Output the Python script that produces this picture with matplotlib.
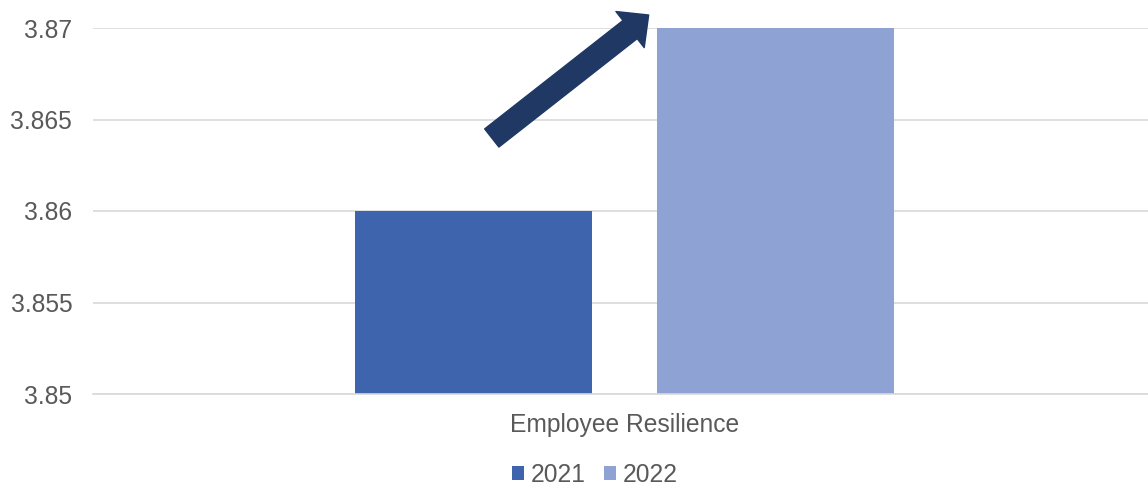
import matplotlib
matplotlib.use("Agg")
import matplotlib.pyplot as plt
from matplotlib.patches import FancyArrowPatch

plt.rcParams['font.family'] = ['Liberation Sans', 'DejaVu Sans']

category = "Employee Resilience"
years = ["2021", "2022"]
scores = [3.86, 3.87]
colors = ["#3D64AC", "#8FA2D4"]
yticks = [3.85, 3.855, 3.86, 3.865, 3.87]

TEXT = "#595959"
GRID = "#D9D9D9"
FS = 17.7

fig = plt.figure(figsize=(11.48, 4.88), dpi=100)
ax = fig.add_axes([93 / 1148, 1 - 394 / 488, 1 - 93 / 1148, (394 - 28) / 488])

# two bars sitting side by side around the single category
offsets = [-0.5, 0.5]
for off, val, col, yr in zip(offsets, scores, colors, years):
    ax.bar(off, val - yticks[0], bottom=yticks[0], width=0.786,
           color=col, label=yr, zorder=2)

ax.set_xlim(-1.763, 1.737)
ax.set_ylim(yticks[0], yticks[-1])
ax.set_yticks(yticks)
ax.set_yticklabels([f"{t:g}" for t in yticks])
ax.set_xticks([0])
ax.set_xticklabels([category])
ax.tick_params(axis='both', length=0, labelsize=FS, colors=TEXT)
ax.tick_params(axis='y', pad=15)
ax.tick_params(axis='x', pad=14)

ax.yaxis.grid(True, color=GRID, linewidth=1.2, zorder=0)
ax.set_axisbelow(True)
for s in ["top", "right", "left"]:
    ax.spines[s].set_visible(False)
ax.spines["bottom"].set_color(GRID)
ax.spines["bottom"].set_linewidth(1.2)

# upward arrow pointing at the 2022 bar
arrow = FancyArrowPatch((-0.44, 3.86399), (0.0804, 3.87071),
                        arrowstyle="simple,head_length=17,head_width=33,tail_width=16.6",
                        mutation_scale=1, shrinkA=0, shrinkB=0,
                        color="#1F3864", clip_on=False, zorder=3)
ax.add_patch(arrow)

fig.legend(loc="center", bbox_to_anchor=(0.518, 1 - 475 / 488), ncol=2, frameon=False,
           fontsize=FS, labelcolor=TEXT, handlelength=0.5, handleheight=0.5,
           handletextpad=0.25, columnspacing=0.75, borderpad=0, borderaxespad=0)

fig.savefig("out.png", dpi=100, facecolor="white")
